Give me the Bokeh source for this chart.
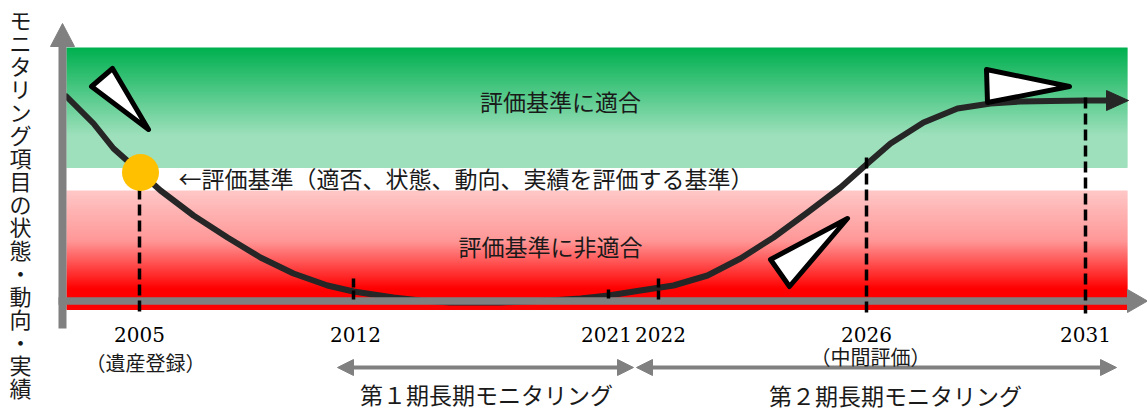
import numpy as np
from bokeh.plotting import figure
from bokeh.models import Range1d
from bokeh.embed import file_html
from bokeh.resources import INLINE
from bokeh.core.properties import value

# ---------------- data ----------------
years = ["2005", "2012", "2021", "2022", "2026", "2031"]
year_x = [139, 355, 606, 660, 866, 1085]

year_notes = ["（遺産登録）", "（中間評価）"]
note_x = [145, 870]
note_y = [362, 356]

# conceptual state curve (timeline px, level px; level axis flipped)
curve_x = [66, 79, 93, 113, 140, 160, 193, 227, 260, 293, 327, 353, 393, 420,
           450, 500, 550, 580, 608, 640, 673, 707, 740, 773, 807, 840, 867,
           890, 923, 957, 990, 1020, 1050, 1085, 1110]
curve_y = [96, 109, 123, 148, 172, 190, 215, 237, 257, 273, 285, 291, 297, 300,
           302, 302, 300, 298, 295, 290, 285, 275, 258, 237, 212, 187, 163,
           143, 122, 108, 103, 101, 100.5, 100, 100]

criterion_x = [140]
criterion_y = [172]

dashed_x = [139, 866, 1085]
dashed_top = [172, 157, 97]
tick_x = [353, 608, 658]
tick_top = [278, 289, 278]

band_labels = ["評価基準に適合", "評価基準に非適合"]
criterion_label = "←評価基準（適否、状態、動向、実績を評価する基準）"
period_labels = ["第１期長期モニタリング", "第２期長期モニタリング"]
period_start = [337, 636]
period_end = [633, 1116]
y_title = "モニタリング項目の状態・動向・実績"

pointers_x = [[91, 112, 148], [770, 789, 847], [986, 987, 1069]]
pointers_y = [[86, 68, 129], [259, 286, 218], [69, 102, 86]]

# ---------------- figure ----------------
W, H = 1147, 411
p = figure(width=W, height=H, x_range=Range1d(0, W), y_range=Range1d(H, 0),
           output_backend="svg", toolbar_location=None, min_border=0,
           x_axis_type=None, y_axis_type=None)
p.grid.visible = False
p.outline_line_color = None
p.background_fill_color = "white"
p.border_fill_color = "white"

JP = value("Noto Sans CJK JP")
SERIF = value("DejaVu Serif")
TXT = "#1a1a1a"
GRAY = "#808080"

# gradient bands (drawn as thin strips)
def lerp(c1, c2, t):
    return tuple(int(round(a + (b - a) * t)) for a, b in zip(c1, c2))

def hexc(c):
    return "#%02x%02x%02x" % c

strip_top, strip_col = [], []
for y in np.arange(47, 167, 1.0):
    t = min(1.0, max(0.0, (y - 47) / 88.0))
    strip_top.append(y)
    strip_col.append(hexc(lerp((0, 176, 80), (158, 224, 188), t)))
for y in np.arange(190, 309, 1.0):
    if y < 240:
        c = lerp((255, 199, 199), (255, 150, 150), (y - 190) / 50.0)
    else:
        c = lerp((255, 150, 150), (255, 0, 0), min(1.0, (y - 240) / 48.0))
    strip_top.append(y)
    strip_col.append(hexc(c))
strip_top = np.array(strip_top)
p.quad(left=66, right=1127, top=strip_top, bottom=strip_top + 1.4,
       fill_color=strip_col, line_color=None)

# curve (drawn beneath the time axis) with arrow head
p.line(curve_x, curve_y, line_color="#262626", line_width=6, line_join="round", line_cap="round")
p.patch(x=[1106, 1128, 1106], y=[90, 100, 110], fill_color="#262626", line_color="#262626")

# gray axes with arrow heads
p.segment(x0=[62], y0=[328], x1=[62], y1=[44], line_color=GRAY, line_width=8)
p.patch(x=[50, 62, 74], y=[46, 23, 46], fill_color=GRAY, line_color=GRAY)
p.segment(x0=[58], y0=[300.5], x1=[1129], y1=[300.5], line_color=GRAY, line_width=7.5)
p.patch(x=[1127, 1147, 1127], y=[289, 300.5, 312], fill_color=GRAY, line_color=GRAY)

# dashed guide lines and small ticks
p.segment(x0=dashed_x, y0=dashed_top, x1=dashed_x, y1=[313] * len(dashed_x),
          line_color="black", line_width=3.5, line_dash="11 5")
p.segment(x0=tick_x, y0=tick_top, x1=tick_x, y1=[300] * len(tick_x),
          line_color="black", line_width=3.5, line_dash="9 3")

# criterion point
p.scatter(criterion_x, criterion_y, size=37, fill_color="#ffc000", line_color=None)

# pointer triangles
p.patches(xs=pointers_x, ys=pointers_y, fill_color="white", line_color="black",
          line_width=5, line_join="round")

# bottom period arrows
for x0, x1 in zip(period_start, period_end):
    p.segment(x0=[x0 + 10], y0=[367], x1=[x1 - 10], y1=[367], line_color=GRAY, line_width=4)
    p.patch(x=[x0, x0 + 16, x0 + 16], y=[367, 359, 375], fill_color=GRAY, line_color=GRAY)
    p.patch(x=[x1, x1 - 16, x1 - 16], y=[367, 359, 375], fill_color=GRAY, line_color=GRAY)

# texts
p.text(x=[560, 550], y=[100, 245], text=band_labels, text_font=JP, text_font_size="23px",
       text_align="center", text_baseline="middle", text_color=TXT)
p.text(x=[178], y=[177], text=[criterion_label], text_font=JP, text_font_size="23px",
       text_align="left", text_baseline="middle", text_color=TXT)
p.text(x=[486, 895], y=[393, 394], text=period_labels, text_font=JP, text_font_size="23px",
       text_align="center", text_baseline="middle", text_color=TXT)
p.text(x=year_x, y=[334] * len(years), text=years, text_font=SERIF, text_font_size="20px",
       text_align="center", text_baseline="middle", text_color="black")
p.text(x=note_x, y=note_y, text=year_notes, text_font=JP, text_font_size="20px",
       text_align="center", text_baseline="middle", text_color=TXT)

chars = list(y_title)
p.text(x=[20] * len(chars), y=[18 + i * 23.06 for i in range(len(chars))], text=chars,
       text_font=JP, text_font_size="22px", text_align="center", text_baseline="middle",
       text_color=TXT)

open("out.html", "w").write(file_html(p, INLINE))
